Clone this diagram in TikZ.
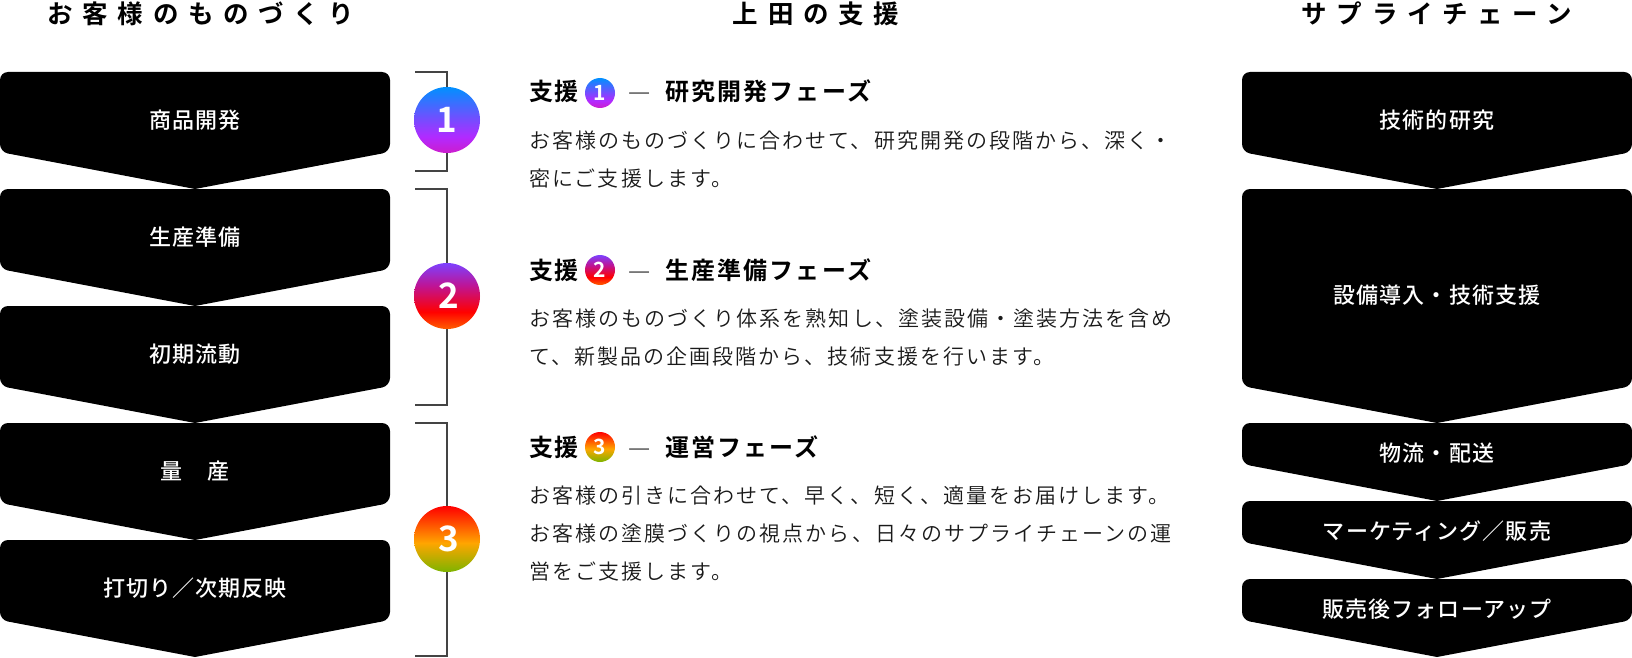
\documentclass[tikz,border=0pt]{standalone}
\usepackage{fontspec}
\setmainfont{Noto Sans CJK JP}[BoldFont={Noto Sans CJK JP Bold}]
\newfontfamily\hdfont{Noto Sans CJK JP Bold}[LetterSpace=38]
\newfontfamily\bodyfont{Noto Sans CJK JP DemiLight}[LetterSpace=9.8]
\newfontfamily\dashfont{Noto Sans CJK JP Light}
\newfontfamily\subfont{Noto Sans CJK JP Bold}[LetterSpace=9]
\newfontfamily\subbfont{Noto Sans CJK JP Bold}[LetterSpace=5]
\newfontfamily\boxfont{Noto Sans CJK JP Medium}[LetterSpace=5]
\newfontfamily\digitfont{Noto Sans CJK JP Bold}
\definecolor{grA}{RGB}{0,144,255}\definecolor{grB}{RGB}{120,75,255}\definecolor{grBb}{RGB}{178,42,255}\definecolor{grC}{RGB}{205,28,205}
\definecolor{grD}{RGB}{125,65,255}\definecolor{grDb}{RGB}{190,20,150}\definecolor{grE}{RGB}{255,0,0}\definecolor{grF}{RGB}{255,95,0}
\definecolor{grG}{RGB}{255,0,0}\definecolor{grH}{RGB}{255,165,0}\definecolor{grI}{RGB}{125,180,0}
\pgfdeclareverticalshading{gradone}{100bp}{color(0bp)=(grC);color(25bp)=(grC);color(37bp)=(grBb);color(50bp)=(grB);color(75bp)=(grA);color(100bp)=(grA)}
\pgfdeclareverticalshading{gradtwo}{100bp}{color(0bp)=(grF);color(25bp)=(grF);color(38bp)=(grE);color(58bp)=(grDb);color(75bp)=(grD);color(100bp)=(grD)}
\pgfdeclareverticalshading{gradthree}{100bp}{color(0bp)=(grI);color(25bp)=(grI);color(47bp)=(grH);color(75bp)=(grG);color(100bp)=(grG)}
\definecolor{linegray}{RGB}{68,68,68}
\definecolor{bodygray}{RGB}{26,26,26}
\tikzset{
  chevfill/.style={fill=black},
  chevtext/.style={text=white,font=\boxfont\fontsize{22}{24}\selectfont,inner sep=0pt},
  hdtext/.style={anchor=base,inner sep=0pt,font=\hdfont\fontsize{25.5}{28}\selectfont},
  bodytext/.style={anchor=base west,inner sep=0pt,text=bodygray,font=\bodyfont\fontsize{21}{24}\selectfont},
  subtext/.style={anchor=base west,inner sep=0pt,font=\subfont\fontsize{24}{26}\selectfont},
  subbtext/.style={anchor=base west,inner sep=0pt,font=\subbfont\fontsize{24}{26}\selectfont},
  dashtext/.style={anchor=base west,inner sep=0pt,text=bodygray,font=\dashfont\fontsize{25}{26}\selectfont},
  bigdot/.style={circle,minimum size=66pt,inner sep=0pt,text=white,font=\digitfont\fontsize{35}{38}\selectfont},
  smalldot/.style={circle,minimum size=30pt,inner sep=0pt,text=white,font=\digitfont\fontsize{21}{22}\selectfont},
  bracket/.style={draw=linegray,line width=1.6pt},
}
\newcommand{\chev}[7]{% name,x1,x2,top,bot,texty,text
  \fill[chevfill] ({(#2+#3)/2},#5) [rounded corners=8pt] -- (#2,#5-37) -- (#2,#4) -- (#3,#4) -- (#3,#5-37) [sharp corners] -- cycle;
  \node[chevtext] (#1) at ({(#2+#3)/2},#6) {#7};
}
\begin{document}
\begin{tikzpicture}[x=1pt,y=-1pt]
\useasboundingbox (0,0) rectangle (1632,658);
\fill[white] (0,0) rectangle (1632,658);
% headers
\node[hdtext] (h1) at (201,23.5) {お客様のものづくり};
\node[hdtext] (h2) at (816,23.5) {上田の支援};
\node[hdtext] (h3) at (1437,23.5) {サプライチェーン};
% left column
\chev{a1}{0}{390}{72}{189}{120}{商品開発}
\chev{a2}{0}{390}{189}{306}{237}{生産準備}
\chev{a3}{0}{390}{306}{423}{354}{初期流動}
\chev{a4}{0}{390}{423}{540}{471}{量　産}
\chev{a5}{0}{390}{540}{657}{588}{打切り／次期反映}
% right column
\chev{b1}{1242}{1632}{72}{189}{120}{技術的研究}
\chev{b2}{1242}{1632}{189}{423}{295}{設備導入・技術支援}
\chev{b3}{1242}{1632}{423}{501}{453}{物流・配送}
\chev{b4}{1242}{1632}{501}{579}{531}{マーケティング／販売}
\chev{b5}{1242}{1632}{579}{657}{609}{販売後フォローアップ}
% brackets
\coordinate (c1a) at (415,72);\coordinate (c1b) at (447,72);
\coordinate (c1c) at (447,171);\coordinate (c1d) at (415,171);
\coordinate (c2a) at (415,189);\coordinate (c2b) at (447,189);
\coordinate (c2c) at (447,405);\coordinate (c2d) at (415,405);
\coordinate (c3a) at (415,423);\coordinate (c3b) at (447,423);
\coordinate (c3c) at (447,656);\coordinate (c3d) at (415,656);
\node[bigdot,shading=gradone] (n1) at (447,120) {1};
\node[bigdot,shading=gradtwo] (n2) at (447,296) {\hspace{3pt}2};
\node[bigdot,shading=gradthree] (n3) at (447,539) {\hspace{3pt}3};
\draw[bracket] (c1a) -- (c1b) -- (n1);
\draw[bracket] (n1) -- (c1c) -- (c1d);
\draw[bracket] (c2a) -- (c2b) -- (n2);
\draw[bracket] (n2) -- (c2c) -- (c2d);
\draw[bracket] (c3a) -- (c3b) -- (n3);
\draw[bracket] (n3) -- (c3c) -- (c3d);
% section 1
\node[subbtext] (s1) at (529,101) {支援};
\node[smalldot,shading=gradone] (d1) at (600,93) {1};
\node[dashtext] (l1) at (628,101) {—};
\node[subtext] (t1) at (665,101) {研究開発フェーズ};
\node[bodytext] (p1a) at (529,148) {お客様のものづくりに合わせて、研究開発の段階から、深く・};
\node[bodytext] (p1b) at (529,186) {密にご支援します。};
% section 2
\node[subbtext] (s2) at (529,279) {支援};
\node[smalldot,shading=gradtwo] (d2) at (600,270) {2};
\node[dashtext] (l2) at (628,279) {—};
\node[subtext] (t2) at (665,279) {生産準備フェーズ};
\node[bodytext] (p2a) at (529,326) {お客様のものづくり体系を熟知し、塗装設備・塗装方法を含め};
\node[bodytext] (p2b) at (529,364) {て、新製品の企画段階から、技術支援を行います。};
% section 3
\node[subbtext] (s3) at (529,456) {支援};
\node[smalldot,shading=gradthree] (d3) at (600,447) {3};
\node[dashtext] (l3) at (628,456) {—};
\node[subtext] (t3) at (665,456) {運営フェーズ};
\node[bodytext] (p3a) at (529,503) {お客様の引きに合わせて、早く、短く、適量をお届けします。};
\node[bodytext] (p3b) at (529,541) {お客様の塗膜づくりの視点から、日々のサプライチェーンの運};
\node[bodytext] (p3c) at (529,579) {営をご支援します。};
\end{tikzpicture}
\end{document}
